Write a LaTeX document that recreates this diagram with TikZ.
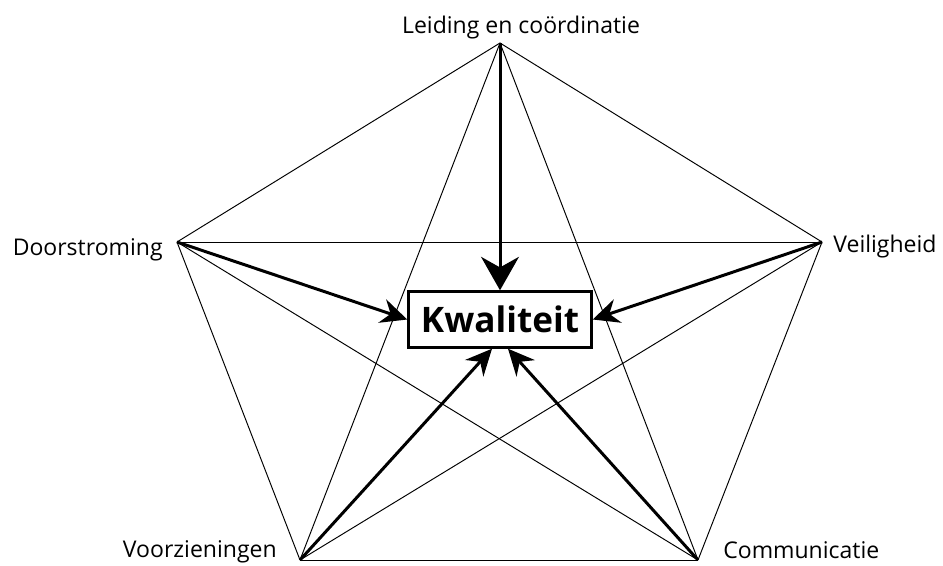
\documentclass[tikz,border=0pt]{standalone}
\usepackage{fontspec}
\setmainfont{Open Sans}
\usetikzlibrary{arrows.meta, positioning}

\begin{document}
\begin{tikzpicture}[x=0.02cm, y=-0.02cm,
  thinline/.style={line width=0.55pt, black},
  arrowline/.style={line width=1.7pt, black, -{Stealth[length=15pt, width=14pt, inset=5pt]}},
  bigarrow/.style={arrowline, -{Stealth[length=19pt, width=21.5pt, inset=6pt]}},
  label/.style={inner sep=0pt, font=\fontsize{13.1}{16}\selectfont},
  box/.style={draw, line width=1.4pt, minimum width=3.66cm, minimum height=1.12cm, inner sep=0pt,
    font=\fontsize{20}{24}\bfseries}]

\useasboundingbox (0,0) rectangle (943,565);

% Corners
\coordinate (T)  at (500,43);
\coordinate (L)  at (177,242);
\coordinate (R)  at (822,242);
\coordinate (BL) at (300,560);
\coordinate (BR) at (698,560);

% Labels
\node[label, anchor=base]      (lt)  at (521,33)  {Leiding en coördinatie};
\node[label, anchor=base east] (ll)  at (163,255) {Doorstroming};
\node[label, anchor=base west] (lr)  at (833,252) {Veiligheid};
\node[label, anchor=base east] (lbl) at (277,557) {Voorzieningen};
\node[label, anchor=base west] (lbr) at (723,558) {Communicatie};

% Every corner to every corner
\foreach \a/\b in {T/L, T/R, T/BL, T/BR, L/R, L/BL, L/BR, R/BL, R/BR, BL/BR}
  \draw[thinline] (\a) -- (\b);

% Centre
\node[box, fill=white] (kw) at (500,319.5) {Kwaliteit};

% Arrows
\draw[bigarrow]   (T)  -- (kw.north);
\draw[arrowline]  (L)  -- (kw.west);
\draw[arrowline]  (R)  -- (kw.east);
\draw[arrowline]  (BL) -- ([xshift=-0.16cm]kw.south);
\draw[arrowline]  (BR) -- ([xshift=0.16cm]kw.south);

\end{tikzpicture}
\end{document}
